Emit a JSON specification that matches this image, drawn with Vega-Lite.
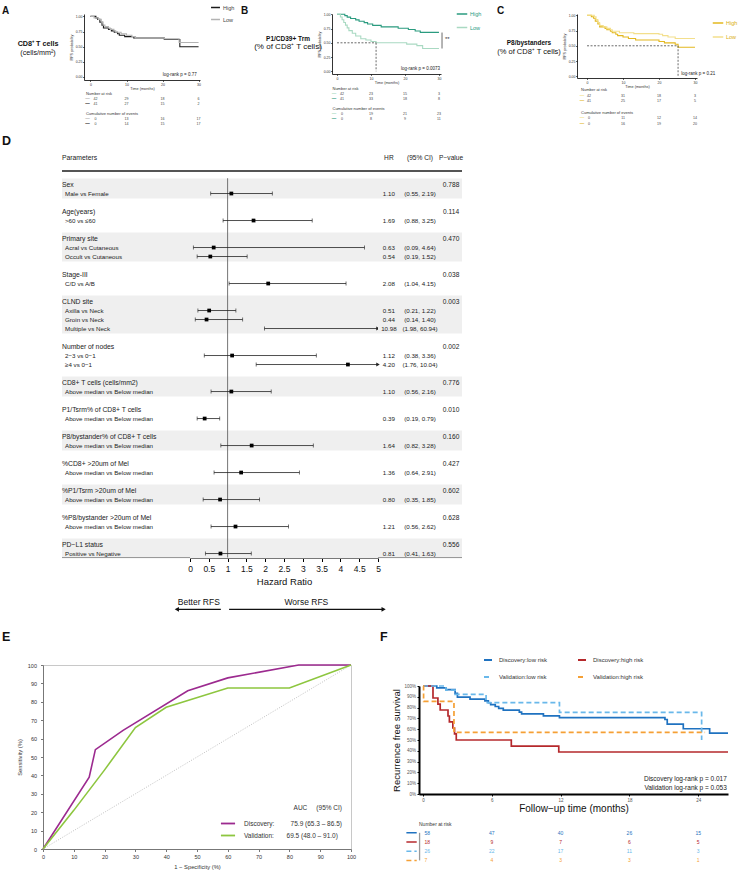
{
"$schema":"https://vega.github.io/schema/vega-lite/v6.json",
"padding":{"left":2,"top":2,"right":0,"bottom":0},
"background":"white",
"config":{"view":{"stroke":null},"font":"Liberation Sans","title":{"anchor":"start","frame":"group","fontWeight":"bold","font":"Liberation Sans","color":"#111"},"axis":{"grid":false,"labelOverlap":false}},
"datasets":{
"kmA":[{"g":"High","t":0,"s":1},{"g":"High","t":1.5,"s":0.976},{"g":"High","t":2,"s":0.952},{"g":"High","t":2.6,"s":0.905},{"g":"High","t":3.2,"s":0.857},{"g":"High","t":3.6,"s":0.81},{"g":"High","t":5,"s":0.786},{"g":"High","t":5.8,"s":0.762},{"g":"High","t":6.6,"s":0.738},{"g":"High","t":7.5,"s":0.714},{"g":"High","t":8,"s":0.69},{"g":"High","t":9.5,"s":0.667},{"g":"High","t":12,"s":0.643},{"g":"High","t":20.5,"s":0.62},{"g":"High","t":24.8,"s":0.5},{"g":"High","t":30,"s":0.5},
{"g":"Low","t":0,"s":1},{"g":"Low","t":1,"s":0.976},{"g":"Low","t":2.2,"s":0.952},{"g":"Low","t":3,"s":0.905},{"g":"Low","t":3.5,"s":0.857},{"g":"Low","t":4,"s":0.833},{"g":"Low","t":5,"s":0.81},{"g":"Low","t":5.5,"s":0.786},{"g":"Low","t":6.5,"s":0.762},{"g":"Low","t":7,"s":0.738},{"g":"Low","t":8.5,"s":0.714},{"g":"Low","t":10,"s":0.69},{"g":"Low","t":11.5,"s":0.667},{"g":"Low","t":12.5,"s":0.643},{"g":"Low","t":20.5,"s":0.63},{"g":"Low","t":24.6,"s":0.57},{"g":"Low","t":30,"s":0.57}],
"kmB":[{"g":"High","t":0,"s":1},{"g":"High","t":2.3,"s":0.976},{"g":"High","t":3,"s":0.951},{"g":"High","t":4,"s":0.927},{"g":"High","t":5.5,"s":0.902},{"g":"High","t":6.5,"s":0.878},{"g":"High","t":8,"s":0.854},{"g":"High","t":9,"s":0.829},{"g":"High","t":10.5,"s":0.805},{"g":"High","t":13,"s":0.78},{"g":"High","t":18,"s":0.756},{"g":"High","t":21,"s":0.732},{"g":"High","t":23,"s":0.707},{"g":"High","t":24.5,"s":0.683},{"g":"High","t":30,"s":0.683},
{"g":"Low","t":0,"s":1},{"g":"Low","t":1,"s":0.952},{"g":"Low","t":1.5,"s":0.905},{"g":"Low","t":2,"s":0.857},{"g":"Low","t":2.5,"s":0.81},{"g":"Low","t":3,"s":0.762},{"g":"Low","t":3.5,"s":0.714},{"g":"Low","t":4.5,"s":0.667},{"g":"Low","t":5.5,"s":0.619},{"g":"Low","t":7,"s":0.571},{"g":"Low","t":8.5,"s":0.548},{"g":"Low","t":10,"s":0.524},{"g":"Low","t":11.5,"s":0.5},{"g":"Low","t":20.5,"s":0.476},{"g":"Low","t":23.5,"s":0.45},{"g":"Low","t":25.2,"s":0.4},{"g":"Low","t":30,"s":0.4}],
"kmC":[{"g":"High","t":0,"s":1},{"g":"High","t":1.2,"s":0.976},{"g":"High","t":1.8,"s":0.952},{"g":"High","t":2.3,"s":0.905},{"g":"High","t":3,"s":0.857},{"g":"High","t":3.5,"s":0.81},{"g":"High","t":5,"s":0.786},{"g":"High","t":5.5,"s":0.762},{"g":"High","t":6.5,"s":0.738},{"g":"High","t":7,"s":0.714},{"g":"High","t":8,"s":0.69},{"g":"High","t":8.5,"s":0.667},{"g":"High","t":10,"s":0.643},{"g":"High","t":11.5,"s":0.619},{"g":"High","t":13.5,"s":0.595},{"g":"High","t":20,"s":0.57},{"g":"High","t":21.5,"s":0.548},{"g":"High","t":24.5,"s":0.524},{"g":"High","t":25.3,"s":0.476},{"g":"High","t":30,"s":0.476},
{"g":"Low","t":0,"s":1},{"g":"Low","t":2,"s":0.976},{"g":"Low","t":2.5,"s":0.929},{"g":"Low","t":3,"s":0.881},{"g":"Low","t":3.5,"s":0.833},{"g":"Low","t":4.5,"s":0.81},{"g":"Low","t":5.5,"s":0.786},{"g":"Low","t":6.5,"s":0.762},{"g":"Low","t":7,"s":0.738},{"g":"Low","t":9,"s":0.714},{"g":"Low","t":13,"s":0.7},{"g":"Low","t":20,"s":0.69},{"g":"Low","t":21,"s":0.667},{"g":"Low","t":22.5,"s":0.643},{"g":"Low","t":24.5,"s":0.62},{"g":"Low","t":30,"s":0.62}],
"tA":[{"r":"a","t":0,"v":"Number at risk","h":true},{"r":"d","t":0,"v":"Cumulative number of events","h":true},
{"r":"b","g":"Low","t":0,"v":"42"},{"r":"b","g":"Low","t":10,"v":"29"},{"r":"b","g":"Low","t":20,"v":"18"},{"r":"b","g":"Low","t":30,"v":"6"},
{"r":"c","g":"High","t":0,"v":"41"},{"r":"c","g":"High","t":10,"v":"27"},{"r":"c","g":"High","t":20,"v":"15"},{"r":"c","g":"High","t":30,"v":"2"},
{"r":"e","g":"Low","t":0,"v":"0"},{"r":"e","g":"Low","t":10,"v":"13"},{"r":"e","g":"Low","t":20,"v":"16"},{"r":"e","g":"Low","t":30,"v":"17"},
{"r":"f","g":"High","t":0,"v":"0"},{"r":"f","g":"High","t":10,"v":"14"},{"r":"f","g":"High","t":20,"v":"15"},{"r":"f","g":"High","t":30,"v":"17"}],
"tB":[{"r":"a","t":0,"v":"Number at risk","h":true},{"r":"d","t":0,"v":"Cumulative number of events","h":true},
{"r":"b","g":"Low","t":0,"v":"42"},{"r":"b","g":"Low","t":10,"v":"23"},{"r":"b","g":"Low","t":20,"v":"15"},{"r":"b","g":"Low","t":30,"v":"3"},
{"r":"c","g":"High","t":0,"v":"41"},{"r":"c","g":"High","t":10,"v":"33"},{"r":"c","g":"High","t":20,"v":"18"},{"r":"c","g":"High","t":30,"v":"8"},
{"r":"e","g":"Low","t":0,"v":"0"},{"r":"e","g":"Low","t":10,"v":"19"},{"r":"e","g":"Low","t":20,"v":"21"},{"r":"e","g":"Low","t":30,"v":"23"},
{"r":"f","g":"High","t":0,"v":"0"},{"r":"f","g":"High","t":10,"v":"8"},{"r":"f","g":"High","t":20,"v":"9"},{"r":"f","g":"High","t":30,"v":"11"}],
"tC":[{"r":"a","t":0,"v":"Number at risk","h":true},{"r":"d","t":0,"v":"Cumulative number of events","h":true},
{"r":"b","g":"Low","t":0,"v":"42"},{"r":"b","g":"Low","t":10,"v":"31"},{"r":"b","g":"Low","t":20,"v":"18"},{"r":"b","g":"Low","t":30,"v":"3"},
{"r":"c","g":"High","t":0,"v":"41"},{"r":"c","g":"High","t":10,"v":"25"},{"r":"c","g":"High","t":20,"v":"17"},{"r":"c","g":"High","t":30,"v":"5"},
{"r":"e","g":"Low","t":0,"v":"0"},{"r":"e","g":"Low","t":10,"v":"11"},{"r":"e","g":"Low","t":20,"v":"12"},{"r":"e","g":"Low","t":30,"v":"14"},
{"r":"f","g":"High","t":0,"v":"0"},{"r":"f","g":"High","t":10,"v":"16"},{"r":"f","g":"High","t":20,"v":"19"},{"r":"f","g":"High","t":30,"v":"20"}],
"forest":[
{"L":0,"label":"Sex","k":"h","p":"0.788"},
{"L":1,"label":"Male vs Female","k":"i","hr":1.10,"lo":0.55,"hi":2.19,"hrs":"1.10","ci":"(0.55, 2.19)"},
{"L":3,"label":"Age(years)","k":"h","p":"0.114"},
{"L":4,"label":">60 vs ≤60","k":"i","hr":1.69,"lo":0.88,"hi":3.25,"hrs":"1.69","ci":"(0.88, 3.25)"},
{"L":6,"label":"Primary site","k":"h","p":"0.470"},
{"L":7,"label":"Acral vs Cutaneous","k":"i","hr":0.63,"lo":0.09,"hi":4.64,"hrs":"0.63","ci":"(0.09, 4.64)"},
{"L":8,"label":"Occult vs Cutaneous","k":"i","hr":0.54,"lo":0.19,"hi":1.52,"hrs":"0.54","ci":"(0.19, 1.52)"},
{"L":10,"label":"Stage-III","k":"h","p":"0.038"},
{"L":11,"label":"C/D vs A/B","k":"i","hr":2.08,"lo":1.04,"hi":4.15,"hrs":"2.08","ci":"(1.04, 4.15)"},
{"L":13,"label":"CLND site","k":"h","p":"0.003"},
{"L":14,"label":"Axilla vs Neck","k":"i","hr":0.51,"lo":0.21,"hi":1.22,"hrs":"0.51","ci":"(0.21, 1.22)"},
{"L":15,"label":"Groin vs Neck","k":"i","hr":0.44,"lo":0.14,"hi":1.40,"hrs":"0.44","ci":"(0.14, 1.40)"},
{"L":16,"label":"Multiple vs Neck","k":"i","hr":10.98,"lo":1.98,"hi":60.94,"hrs":"10.98","ci":"(1.98, 60.94)"},
{"L":18,"label":"Number of nodes","k":"h","p":"0.002"},
{"L":19,"label":"2−3 vs 0−1","k":"i","hr":1.12,"lo":0.38,"hi":3.36,"hrs":"1.12","ci":"(0.38, 3.36)"},
{"L":20,"label":"≥4 vs 0−1","k":"i","hr":4.20,"lo":1.76,"hi":10.04,"hrs":"4.20","ci":"(1.76, 10.04)"},
{"L":22,"label":"CD8+ T cells (cells/mm2)","k":"h","p":"0.776"},
{"L":23,"label":"Above median vs Below median","k":"i","hr":1.10,"lo":0.56,"hi":2.16,"hrs":"1.10","ci":"(0.56, 2.16)"},
{"L":25,"label":"P1/Tsrm% of CD8+ T cells","k":"h","p":"0.010"},
{"L":26,"label":"Above median vs Below median","k":"i","hr":0.39,"lo":0.19,"hi":0.79,"hrs":"0.39","ci":"(0.19, 0.79)"},
{"L":28,"label":"P8/bystander% of CD8+ T cells","k":"h","p":"0.160"},
{"L":29,"label":"Above median vs Below median","k":"i","hr":1.64,"lo":0.82,"hi":3.28,"hrs":"1.64","ci":"(0.82, 3.28)"},
{"L":31,"label":"%CD8+ >20um of Mel","k":"h","p":"0.427"},
{"L":32,"label":"Above median vs Below median","k":"i","hr":1.36,"lo":0.64,"hi":2.91,"hrs":"1.36","ci":"(0.64, 2.91)"},
{"L":34,"label":"%P1/Tsrm >20um of Mel","k":"h","p":"0.602"},
{"L":35,"label":"Above median vs Below median","k":"i","hr":0.80,"lo":0.35,"hi":1.85,"hrs":"0.80","ci":"(0.35, 1.85)"},
{"L":37,"label":"%P8/bystander >20um of Mel","k":"h","p":"0.628"},
{"L":38,"label":"Above median vs Below median","k":"i","hr":1.21,"lo":0.56,"hi":2.62,"hrs":"1.21","ci":"(0.56, 2.62)"},
{"L":40,"label":"PD−L1 status","k":"h","p":"0.556"},
{"L":41,"label":"Positive vs Negative","k":"i","hr":0.81,"lo":0.41,"hi":1.63,"hrs":"0.81","ci":"(0.41, 1.63)"}],
"bands":[{"s":0,"e":1},{"s":6,"e":8},{"s":13,"e":16},{"s":22,"e":23},{"s":28,"e":29},{"s":34,"e":35},{"s":40,"e":41}],
"roc":[{"m":"Discovery","x":0,"y":0},{"m":"Discovery","x":15,"y":39},{"m":"Discovery","x":17,"y":54},{"m":"Discovery","x":26,"y":64.5},{"m":"Discovery","x":47,"y":86},{"m":"Discovery","x":60,"y":93},{"m":"Discovery","x":83,"y":100},{"m":"Discovery","x":100,"y":100},
{"m":"Validation","x":0,"y":0},{"m":"Validation","x":10,"y":21},{"m":"Validation","x":20,"y":43},{"m":"Validation","x":30,"y":66},{"m":"Validation","x":40,"y":77},{"m":"Validation","x":60,"y":87.5},{"m":"Validation","x":80,"y":87.5},{"m":"Validation","x":100,"y":100}],
"fkm":[{"g":"Discovery:low risk","t":0,"s":1},{"g":"Discovery:low risk","t":1.2,"s":0.983},{"g":"Discovery:low risk","t":2,"s":0.966},{"g":"Discovery:low risk","t":2.8,"s":0.931},{"g":"Discovery:low risk","t":3,"s":0.897},{"g":"Discovery:low risk","t":4.1,"s":0.879},{"g":"Discovery:low risk","t":5.4,"s":0.862},{"g":"Discovery:low risk","t":5.7,"s":0.845},{"g":"Discovery:low risk","t":5.9,"s":0.828},{"g":"Discovery:low risk","t":6.3,"s":0.81},{"g":"Discovery:low risk","t":6.6,"s":0.793},{"g":"Discovery:low risk","t":7,"s":0.776},{"g":"Discovery:low risk","t":8.4,"s":0.759},{"g":"Discovery:low risk","t":8.6,"s":0.741},{"g":"Discovery:low risk","t":10.5,"s":0.724},{"g":"Discovery:low risk","t":11.9,"s":0.707},{"g":"Discovery:low risk","t":21.1,"s":0.69},{"g":"Discovery:low risk","t":21.3,"s":0.647},{"g":"Discovery:low risk","t":22.7,"s":0.604},{"g":"Discovery:low risk","t":25,"s":0.563},{"g":"Discovery:low risk","t":26.6,"s":0.563},
{"g":"Discovery:high risk","t":0,"s":1},{"g":"Discovery:high risk","t":0.87,"s":0.889},{"g":"Discovery:high risk","t":1.3,"s":0.833},{"g":"Discovery:high risk","t":1.5,"s":0.778},{"g":"Discovery:high risk","t":2.18,"s":0.722},{"g":"Discovery:high risk","t":2.3,"s":0.667},{"g":"Discovery:high risk","t":2.6,"s":0.611},{"g":"Discovery:high risk","t":2.75,"s":0.556},{"g":"Discovery:high risk","t":2.9,"s":0.5},{"g":"Discovery:high risk","t":7.7,"s":0.444},{"g":"Discovery:high risk","t":11.84,"s":0.389},{"g":"Discovery:high risk","t":26.6,"s":0.389},
{"g":"Validation:low risk","t":0,"s":1},{"g":"Validation:low risk","t":2,"s":0.962},{"g":"Validation:low risk","t":2.8,"s":0.923},{"g":"Validation:low risk","t":5.5,"s":0.846},{"g":"Validation:low risk","t":11.9,"s":0.756},{"g":"Validation:low risk","t":24.3,"s":0.5},
{"g":"Validation:high risk","t":0,"s":1},{"g":"Validation:high risk","t":0.05,"s":0.857},{"g":"Validation:high risk","t":2.7,"s":0.571},{"g":"Validation:high risk","t":24.6,"s":0.571}],
"ft":[{"r":"h","t":0,"v":"Number at risk","h":true},
{"r":"r1","g":"Discovery:low risk","t":0,"v":"58"},{"r":"r1","g":"Discovery:low risk","t":6,"v":"47"},{"r":"r1","g":"Discovery:low risk","t":12,"v":"40"},{"r":"r1","g":"Discovery:low risk","t":18,"v":"26"},{"r":"r1","g":"Discovery:low risk","t":24,"v":"15"},
{"r":"r2","g":"Discovery:high risk","t":0,"v":"18"},{"r":"r2","g":"Discovery:high risk","t":6,"v":"9"},{"r":"r2","g":"Discovery:high risk","t":12,"v":"7"},{"r":"r2","g":"Discovery:high risk","t":18,"v":"6"},{"r":"r2","g":"Discovery:high risk","t":24,"v":"5"},
{"r":"r3","g":"Validation:low risk","t":0,"v":"26"},{"r":"r3","g":"Validation:low risk","t":6,"v":"22"},{"r":"r3","g":"Validation:low risk","t":12,"v":"17"},{"r":"r3","g":"Validation:low risk","t":18,"v":"11"},{"r":"r3","g":"Validation:low risk","t":24,"v":"3"},
{"r":"r4","g":"Validation:high risk","t":0,"v":"7"},{"r":"r4","g":"Validation:high risk","t":6,"v":"4"},{"r":"r4","g":"Validation:high risk","t":12,"v":"3"},{"r":"r4","g":"Validation:high risk","t":18,"v":"3"},{"r":"r4","g":"Validation:high risk","t":24,"v":"1"}],
"arrows":[{"dir":"Better RFS","from":0.82,"to":-0.35},{"dir":"Worse RFS","from":1.04,"to":5.15}]
},
"spacing":8.5,
"resolve":{"scale":{"color":"independent","strokeDash":"independent","shape":"independent"},"legend":{"color":"independent","strokeDash":"independent","shape":"independent"}},
"vconcat":[
{"hconcat":[
 {"width":82,"height":66,"title":{"text":"A","fontSize":10,"offset":-2},"data":{"values":[{"a":"CD8⁺ T cells","b":"(cells/mm²)"}]},
  "layer":[{"mark":{"type":"text","fontWeight":"bold","fontSize":7.2,"dx":-5,"dy":-3,"color":"#111"},"encoding":{"text":{"field":"a"}}},
           {"mark":{"type":"text","fontSize":7.2,"dx":-5,"dy":6,"color":"#111"},"encoding":{"text":{"field":"b"}}}]},
 {"width":116,"height":66,"resolve":{"scale":{"y":"independent"},"axis":{"y":"independent"}},
  "layer":[
   {"layer":[
    {"data":{"name":"kmA"},"mark":{"type":"line","interpolate":"step-after","strokeWidth":1.1},
     "encoding":{"x":{"field":"t","type":"quantitative","scale":{"domain":[-1.8,30.4],"nice":false,"zero":false},"axis":{"values":[0,10,20,30],"title":"Time (months)","labelFontSize":3.5,"titleFontSize":3.8,"titleFontWeight":"normal","tickSize":1.5,"labelPadding":0.5,"titlePadding":1,"domainColor":"#000","tickColor":"#000","domainWidth":0.8,"tickWidth":0.6,"labelColor":"#333","titleColor":"#333","labelOverlap":false}},
      "y":{"field":"s","type":"quantitative","scale":{"domain":[-0.05,1.04],"nice":false,"zero":false},"axis":{"values":[0,0.25,0.5,0.75,1],"format":".2f","title":"RFS probability","labelFontSize":3.5,"titleFontSize":3.8,"titleFontWeight":"normal","tickSize":1.5,"labelPadding":0.5,"titlePadding":2,"domainColor":"#000","tickColor":"#000","domainWidth":0.8,"tickWidth":0.6,"labelColor":"#333","titleColor":"#333","labelOverlap":false}},
      "color":{"field":"g","type":"nominal","scale":{"domain":["High","Low"],"range":["#1a1a1a","#b3b3b3"]},"legend":{"orient":"none","legendX":126,"legendY":-12,"title":null,"symbolType":"stroke","symbolStrokeWidth":1.5,"symbolSize":80,"labelFontSize":5.5,"labelColor":"#444","rowPadding":3,"labelOffset":2}}}},
    {"data":{"values":[{}]},"mark":{"type":"text","text":"log-rank p = 0.77","align":"right","fontSize":4.5,"color":"#222"},"encoding":{"x":{"datum":29.5,"type":"quantitative","axis":{"values":[0,10,20,30],"title":"Time (months)","labelFontSize":3.5,"titleFontSize":3.8,"titleFontWeight":"normal","tickSize":1.5,"labelPadding":0.5,"titlePadding":1,"domainColor":"#000","tickColor":"#000","domainWidth":0.8,"tickWidth":0.6,"labelColor":"#333","titleColor":"#333","labelOverlap":false}},"y":{"datum":0.03,"type":"quantitative","axis":{"values":[0,0.25,0.5,0.75,1],"format":".2f","title":"RFS probability","labelFontSize":3.5,"titleFontSize":3.8,"titleFontWeight":"normal","tickSize":1.5,"labelPadding":0.5,"titlePadding":2,"domainColor":"#000","tickColor":"#000","domainWidth":0.8,"tickWidth":0.6,"labelColor":"#333","titleColor":"#333","labelOverlap":false}}}}]},
   {"data":{"name":"tA"},
    "encoding":{"x":{"field":"t","type":"quantitative","axis":{"values":[0,10,20,30],"title":"Time (months)","labelFontSize":3.5,"titleFontSize":3.8,"titleFontWeight":"normal","tickSize":1.5,"labelPadding":0.5,"titlePadding":1,"domainColor":"#000","tickColor":"#000","domainWidth":0.8,"tickWidth":0.6,"labelColor":"#333","titleColor":"#333","labelOverlap":false}},"y":{"field":"r","type":"ordinal","scale":{"type":"point","domain":["a","b","c","x","d","e","f"],"padding":0.5,"range":[77,112]},"axis":null}},
    "layer":[
     {"transform":[{"filter":"datum.h"}],"mark":{"type":"text","align":"left","dx":-4.5,"fontSize":4,"color":"#333"},"encoding":{"text":{"field":"v"}}},
     {"transform":[{"filter":"!datum.h && datum.t == 0"}],"mark":{"type":"text","dx":5,"fontSize":3.6,"color":"#444"},"encoding":{"text":{"field":"v"}}},
     {"transform":[{"filter":"!datum.h && datum.t > 0"}],"mark":{"type":"text","fontSize":3.6,"color":"#444"},"encoding":{"text":{"field":"v"}}},
     {"transform":[{"filter":"!datum.h && datum.t == 0"}],"mark":{"type":"text","text":"—","dx":-3,"fontSize":4.5,"fontWeight":"bold"},"encoding":{"color":{"field":"g","type":"nominal","legend":null}}}]}]},
 {"width":132,"height":60,"title":{"text":"B","fontSize":10,"offset":-2,"dx":41},"data":{"values":[{"a":"P1/CD39+ Trm","b":"(% of CD8⁺ T cells)"}]},
  "layer":[{"mark":{"type":"text","fontWeight":"bold","fontSize":6.5,"dx":22,"dy":-5.5,"color":"#111"},"encoding":{"text":{"field":"a"}}},
           {"mark":{"type":"text","fontSize":8,"dx":22,"dy":3,"color":"#111"},"encoding":{"text":{"field":"b"}}}]},
 {"width":109,"height":60,"resolve":{"scale":{"y":"independent"},"axis":{"y":"independent"}},
  "layer":[
   {"layer":[
    {"data":{"name":"kmB"},"mark":{"type":"line","interpolate":"step-after","strokeWidth":1.1},
     "encoding":{"x":{"field":"t","type":"quantitative","scale":{"domain":[-1.47,30.6],"nice":false,"zero":false},"axis":{"values":[0,10,20,30],"title":"Time (months)","labelFontSize":3.5,"titleFontSize":3.8,"titleFontWeight":"normal","tickSize":1.5,"labelPadding":0.5,"titlePadding":1,"domainColor":"#000","tickColor":"#000","domainWidth":0.8,"tickWidth":0.6,"labelColor":"#333","titleColor":"#333","labelOverlap":false}},
      "y":{"field":"s","type":"quantitative","scale":{"domain":[-0.047,1.005],"nice":false,"zero":false},"axis":{"values":[0,0.25,0.5,0.75,1],"format":".2f","title":"RFS probability","labelFontSize":3.5,"titleFontSize":3.8,"titleFontWeight":"normal","tickSize":1.5,"labelPadding":0.5,"titlePadding":2,"domainColor":"#000","tickColor":"#000","domainWidth":0.8,"tickWidth":0.6,"labelColor":"#333","titleColor":"#333","labelOverlap":false}},
      "color":{"field":"g","type":"nominal","scale":{"domain":["High","Low"],"range":["#2a9b7f","#a9d9c2"]},"legend":{"orient":"none","legendX":124,"legendY":-6,"title":null,"symbolType":"stroke","symbolStrokeWidth":1.5,"symbolSize":110,"labelFontSize":5.5,"labelColor":"#2a9b7f","rowPadding":3.5,"labelOffset":2}}}},
    {"data":{"values":[{"x":0,"x2":11.5,"y":0.5,"y2":0.5},{"x":11.5,"x2":11.5,"y":0.5,"y2":0}]},"mark":{"type":"rule","strokeDash":[2,1.5],"color":"#444","strokeWidth":0.8},"encoding":{"x":{"field":"x","type":"quantitative","axis":{"values":[0,10,20,30],"title":"Time (months)","labelFontSize":3.5,"titleFontSize":3.8,"titleFontWeight":"normal","tickSize":1.5,"labelPadding":0.5,"titlePadding":1,"domainColor":"#000","tickColor":"#000","domainWidth":0.8,"tickWidth":0.6,"labelColor":"#333","titleColor":"#333","labelOverlap":false}},"x2":{"field":"x2"},"y":{"field":"y","type":"quantitative","axis":{"values":[0,0.25,0.5,0.75,1],"format":".2f","title":"RFS probability","labelFontSize":3.5,"titleFontSize":3.8,"titleFontWeight":"normal","tickSize":1.5,"labelPadding":0.5,"titlePadding":2,"domainColor":"#000","tickColor":"#000","domainWidth":0.8,"tickWidth":0.6,"labelColor":"#333","titleColor":"#333","labelOverlap":false}},"y2":{"field":"y2"}}},
    {"data":{"values":[{"x":30.9,"y":0.68,"y2":0.4,"txt":"**"}]},"layer":[
      {"mark":{"type":"rule","color":"#444","strokeWidth":0.8},"encoding":{"x":{"field":"x","type":"quantitative","axis":{"values":[0,10,20,30],"title":"Time (months)","labelFontSize":3.5,"titleFontSize":3.8,"titleFontWeight":"normal","tickSize":1.5,"labelPadding":0.5,"titlePadding":1,"domainColor":"#000","tickColor":"#000","domainWidth":0.8,"tickWidth":0.6,"labelColor":"#333","titleColor":"#333","labelOverlap":false}},"y":{"field":"y","type":"quantitative","axis":{"values":[0,0.25,0.5,0.75,1],"format":".2f","title":"RFS probability","labelFontSize":3.5,"titleFontSize":3.8,"titleFontWeight":"normal","tickSize":1.5,"labelPadding":0.5,"titlePadding":2,"domainColor":"#000","tickColor":"#000","domainWidth":0.8,"tickWidth":0.6,"labelColor":"#333","titleColor":"#333","labelOverlap":false}},"y2":{"field":"y2"}}},
      {"mark":{"type":"text","align":"left","dx":3,"dy":-2,"fontSize":6,"color":"#333"},"encoding":{"x":{"field":"x","type":"quantitative","axis":{"values":[0,10,20,30],"title":"Time (months)","labelFontSize":3.5,"titleFontSize":3.8,"titleFontWeight":"normal","tickSize":1.5,"labelPadding":0.5,"titlePadding":1,"domainColor":"#000","tickColor":"#000","domainWidth":0.8,"tickWidth":0.6,"labelColor":"#333","titleColor":"#333","labelOverlap":false}},"y":{"datum":0.54,"type":"quantitative","axis":{"values":[0,0.25,0.5,0.75,1],"format":".2f","title":"RFS probability","labelFontSize":3.5,"titleFontSize":3.8,"titleFontWeight":"normal","tickSize":1.5,"labelPadding":0.5,"titlePadding":2,"domainColor":"#000","tickColor":"#000","domainWidth":0.8,"tickWidth":0.6,"labelColor":"#333","titleColor":"#333","labelOverlap":false}},"text":{"field":"txt"}}}]},
    {"data":{"values":[{}]},"mark":{"type":"text","text":"log-rank p = 0.0073","align":"right","fontSize":4.5,"color":"#222"},"encoding":{"x":{"datum":30.3,"type":"quantitative","axis":{"values":[0,10,20,30],"title":"Time (months)","labelFontSize":3.5,"titleFontSize":3.8,"titleFontWeight":"normal","tickSize":1.5,"labelPadding":0.5,"titlePadding":1,"domainColor":"#000","tickColor":"#000","domainWidth":0.8,"tickWidth":0.6,"labelColor":"#333","titleColor":"#333","labelOverlap":false}},"y":{"datum":0.035,"type":"quantitative","axis":{"values":[0,0.25,0.5,0.75,1],"format":".2f","title":"RFS probability","labelFontSize":3.5,"titleFontSize":3.8,"titleFontWeight":"normal","tickSize":1.5,"labelPadding":0.5,"titlePadding":2,"domainColor":"#000","tickColor":"#000","domainWidth":0.8,"tickWidth":0.6,"labelColor":"#333","titleColor":"#333","labelOverlap":false}}}}]},
   {"data":{"name":"tB"},
    "encoding":{"x":{"field":"t","type":"quantitative","axis":{"values":[0,10,20,30],"title":"Time (months)","labelFontSize":3.5,"titleFontSize":3.8,"titleFontWeight":"normal","tickSize":1.5,"labelPadding":0.5,"titlePadding":1,"domainColor":"#000","tickColor":"#000","domainWidth":0.8,"tickWidth":0.6,"labelColor":"#333","titleColor":"#333","labelOverlap":false}},"y":{"field":"r","type":"ordinal","scale":{"type":"point","domain":["a","b","c","x","d","e","f"],"padding":0.5,"range":[72,107]},"axis":null}},
    "layer":[
     {"transform":[{"filter":"datum.h"}],"mark":{"type":"text","align":"left","dx":-4.5,"fontSize":4,"color":"#333"},"encoding":{"text":{"field":"v"}}},
     {"transform":[{"filter":"!datum.h && datum.t == 0"}],"mark":{"type":"text","dx":5,"fontSize":3.6,"color":"#444"},"encoding":{"text":{"field":"v"}}},
     {"transform":[{"filter":"!datum.h && datum.t > 0"}],"mark":{"type":"text","fontSize":3.6,"color":"#444"},"encoding":{"text":{"field":"v"}}},
     {"transform":[{"filter":"!datum.h && datum.t == 0"}],"mark":{"type":"text","text":"—","dx":-3,"fontSize":4.5,"fontWeight":"bold"},"encoding":{"color":{"field":"g","type":"nominal","legend":null}}}]}]},
 {"width":136,"height":64,"title":{"text":"C","fontSize":10,"offset":-2,"dx":56},"data":{"values":[{"a":"P8/bystanders","b":"(% of CD8⁺ T cells)"}]},
  "layer":[{"mark":{"type":"text","fontWeight":"bold","fontSize":6.5,"dx":20,"dy":-2.7,"color":"#111"},"encoding":{"text":{"field":"a"}}},
           {"mark":{"type":"text","fontSize":7.5,"dx":20,"dy":5.7,"color":"#111"},"encoding":{"text":{"field":"b"}}}]},
 {"width":120,"height":64,"resolve":{"scale":{"y":"independent"},"axis":{"y":"independent"}},
  "layer":[
   {"layer":[
    {"data":{"name":"kmC"},"mark":{"type":"line","interpolate":"step-after","strokeWidth":1.1},
     "encoding":{"x":{"field":"t","type":"quantitative","scale":{"domain":[-2.79,30.56],"nice":false,"zero":false},"axis":{"values":[0,10,20,30],"title":"Time (months)","labelFontSize":3.5,"titleFontSize":3.8,"titleFontWeight":"normal","tickSize":1.5,"labelPadding":0.5,"titlePadding":1,"domainColor":"#000","tickColor":"#000","domainWidth":0.8,"tickWidth":0.6,"labelColor":"#333","titleColor":"#333","labelOverlap":false}},
      "y":{"field":"s","type":"quantitative","scale":{"domain":[-0.028,1.021],"nice":false,"zero":false},"axis":{"values":[0,0.25,0.5,0.75,1],"format":".2f","title":"RFS probability","labelFontSize":3.5,"titleFontSize":3.8,"titleFontWeight":"normal","tickSize":1.5,"labelPadding":0.5,"titlePadding":2,"domainColor":"#000","tickColor":"#000","domainWidth":0.8,"tickWidth":0.6,"labelColor":"#333","titleColor":"#333","labelOverlap":false}},
      "color":{"field":"g","type":"nominal","scale":{"domain":["High","Low"],"range":["#e3b81f","#f3df8c"]},"legend":{"orient":"none","legendX":135,"legendY":3,"title":null,"symbolType":"stroke","symbolStrokeWidth":1.5,"symbolSize":110,"labelFontSize":5.5,"labelColor":"#d9ad10","rowPadding":4,"labelOffset":2}}}},
    {"data":{"values":[{"x":0,"x2":25.3,"y":0.5,"y2":0.5},{"x":25.3,"x2":25.3,"y":0.5,"y2":0}]},"mark":{"type":"rule","strokeDash":[2,1.5],"color":"#444","strokeWidth":0.8},"encoding":{"x":{"field":"x","type":"quantitative","axis":{"values":[0,10,20,30],"title":"Time (months)","labelFontSize":3.5,"titleFontSize":3.8,"titleFontWeight":"normal","tickSize":1.5,"labelPadding":0.5,"titlePadding":1,"domainColor":"#000","tickColor":"#000","domainWidth":0.8,"tickWidth":0.6,"labelColor":"#333","titleColor":"#333","labelOverlap":false}},"x2":{"field":"x2"},"y":{"field":"y","type":"quantitative","axis":{"values":[0,0.25,0.5,0.75,1],"format":".2f","title":"RFS probability","labelFontSize":3.5,"titleFontSize":3.8,"titleFontWeight":"normal","tickSize":1.5,"labelPadding":0.5,"titlePadding":2,"domainColor":"#000","tickColor":"#000","domainWidth":0.8,"tickWidth":0.6,"labelColor":"#333","titleColor":"#333","labelOverlap":false}},"y2":{"field":"y2"}}},
    {"data":{"values":[{}]},"mark":{"type":"text","text":"log-rank p = 0.21","align":"left","fontSize":4.5,"color":"#222"},"encoding":{"x":{"datum":26.2,"type":"quantitative","axis":{"values":[0,10,20,30],"title":"Time (months)","labelFontSize":3.5,"titleFontSize":3.8,"titleFontWeight":"normal","tickSize":1.5,"labelPadding":0.5,"titlePadding":1,"domainColor":"#000","tickColor":"#000","domainWidth":0.8,"tickWidth":0.6,"labelColor":"#333","titleColor":"#333","labelOverlap":false}},"y":{"datum":0.04,"type":"quantitative","axis":{"values":[0,0.25,0.5,0.75,1],"format":".2f","title":"RFS probability","labelFontSize":3.5,"titleFontSize":3.8,"titleFontWeight":"normal","tickSize":1.5,"labelPadding":0.5,"titlePadding":2,"domainColor":"#000","tickColor":"#000","domainWidth":0.8,"tickWidth":0.6,"labelColor":"#333","titleColor":"#333","labelOverlap":false}}}}]},
   {"data":{"name":"tC"},
    "encoding":{"x":{"field":"t","type":"quantitative","axis":{"values":[0,10,20,30],"title":"Time (months)","labelFontSize":3.5,"titleFontSize":3.8,"titleFontWeight":"normal","tickSize":1.5,"labelPadding":0.5,"titlePadding":1,"domainColor":"#000","tickColor":"#000","domainWidth":0.8,"tickWidth":0.6,"labelColor":"#333","titleColor":"#333","labelOverlap":false}},"y":{"field":"r","type":"ordinal","scale":{"type":"point","domain":["a","b","c","x","d","e","f"],"padding":0.5,"range":[73,113]},"axis":null}},
    "layer":[
     {"transform":[{"filter":"datum.h"}],"mark":{"type":"text","align":"left","dx":-6,"fontSize":4,"color":"#333"},"encoding":{"text":{"field":"v"}}},
     {"transform":[{"filter":"!datum.h && datum.t == 0"}],"mark":{"type":"text","dx":2,"fontSize":3.6,"color":"#444"},"encoding":{"text":{"field":"v"}}},
     {"transform":[{"filter":"!datum.h && datum.t > 0"}],"mark":{"type":"text","fontSize":3.6,"color":"#444"},"encoding":{"text":{"field":"v"}}},
     {"transform":[{"filter":"!datum.h && datum.t == 0"}],"mark":{"type":"text","text":"—","dx":-5,"fontSize":4.5,"fontWeight":"bold"},"encoding":{"color":{"field":"g","type":"nominal","legend":null}}}]}]}
],"spacing":0,"bounds":"flush","resolve":{"scale":{"color":"independent","strokeDash":"independent","shape":"independent"},"legend":{"color":"independent","strokeDash":"independent","shape":"independent"}}},
{"hconcat":[
 {"width":60,"height":471,"title":{"text":"D","fontSize":12.5,"offset":3},"data":{"values":[{}]},"mark":{"type":"rule","opacity":0},"encoding":{"x":{"datum":0,"type":"quantitative","axis":null}}},
 {"width":128,"height":407,"layer":[
  {"data":{"name":"bands"},"transform":[{"calculate":"datum.s - 0.68","as":"y0"},{"calculate":"datum.e + 0.55","as":"y1"}],"mark":{"type":"rect","color":"#efefef"},"encoding":{"y":{"field":"y0","type":"quantitative","scale":{"domain":[-3.78,41.44],"reverse":true,"nice":false,"zero":false},"axis":null},"y2":{"field":"y1"}}},
  {"data":{"values":[{}]},"mark":{"type":"rule","color":"#555","strokeWidth":1.8},"encoding":{"y":{"datum":-1.5,"type":"quantitative","axis":null}}},
  {"data":{"values":[{}]},"mark":{"type":"rule","color":"#999","strokeWidth":1},"encoding":{"y":{"datum":41.44,"type":"quantitative","axis":null}}},
  {"data":{"values":[{}]},"mark":{"type":"text","text":"Parameters","align":"left","fontSize":6.8,"color":"#222"},"encoding":{"x":{"datum":0,"type":"quantitative","scale":{"domain":[0,1]},"axis":null},"y":{"datum":-2.96,"type":"quantitative","axis":null}}},
  {"data":{"name":"forest"},"transform":[{"filter":"datum.k == 'h'"}],"mark":{"type":"text","align":"left","fontSize":6.8,"color":"#222"},"encoding":{"x":{"datum":0,"type":"quantitative","axis":null},"y":{"field":"L","type":"quantitative","axis":null},"text":{"field":"label"}}},
  {"data":{"name":"forest"},"transform":[{"filter":"datum.k == 'i'"}],"mark":{"type":"text","align":"left","dx":3,"fontSize":6.2,"color":"#222"},"encoding":{"x":{"datum":0,"type":"quantitative","axis":null},"y":{"field":"L","type":"quantitative","axis":null},"text":{"field":"label"}}}]},
 {"width":188,"height":407,
  "layer":[
  {"data":{"name":"bands"},"transform":[{"calculate":"datum.s - 0.68","as":"y0"},{"calculate":"datum.e + 0.55","as":"y1"}],"mark":{"type":"rect","color":"#efefef"},"encoding":{"y":{"field":"y0","type":"quantitative","scale":{"domain":[-3.78,41.44],"reverse":true,"nice":false,"zero":false},"axis":null},"y2":{"field":"y1"}}},
  {"data":{"values":[{}]},"mark":{"type":"rule","color":"#555","strokeWidth":1.8},"encoding":{"y":{"datum":-1.5,"type":"quantitative","axis":null}}},
  {"data":{"values":[{"v":1,"a":-0.7,"b":41.44}]},"mark":{"type":"rule","color":"#666","strokeWidth":0.9},"encoding":{"x":{"field":"v","type":"quantitative","scale":{"domain":[0,5],"nice":false,"zero":false},"axis":{"values":[0,0.5,1,1.5,2,2.5,3,3.5,4,4.5,5],"format":"~g","title":"Hazard Ratio","labelFontSize":8.5,"titleFontSize":9.5,"titleFontWeight":"normal","labelColor":"#111","titleColor":"#111","domainColor":"#000","domainWidth":1.8,"tickColor":"#000","tickSize":4,"tickWidth":1,"labelPadding":2.5,"titlePadding":4,"labelFlush":false,"labelOverlap":false}},"y":{"field":"a","type":"quantitative","axis":null},"y2":{"field":"b"}}},
  {"data":{"name":"forest"},"transform":[{"filter":"datum.k == 'i'"},{"calculate":"min(datum.hi, 5)","as":"hic"}],
   "encoding":{"y":{"field":"L","type":"quantitative","axis":null}},
   "layer":[
    {"mark":{"type":"rule","color":"#222","strokeWidth":0.8},"encoding":{"x":{"field":"lo","type":"quantitative","axis":{"values":[0,0.5,1,1.5,2,2.5,3,3.5,4,4.5,5],"format":"~g","title":"Hazard Ratio","labelFontSize":8.5,"titleFontSize":9.5,"titleFontWeight":"normal","labelColor":"#111","titleColor":"#111","domainColor":"#000","domainWidth":1.8,"tickColor":"#000","tickSize":4,"tickWidth":1,"labelPadding":2.5,"titlePadding":4,"labelFlush":false,"labelOverlap":false}},"x2":{"field":"hic"}}},
    {"mark":{"type":"tick","orient":"vertical","size":4,"thickness":0.9,"color":"#222"},"encoding":{"x":{"field":"lo","type":"quantitative","axis":{"values":[0,0.5,1,1.5,2,2.5,3,3.5,4,4.5,5],"format":"~g","title":"Hazard Ratio","labelFontSize":8.5,"titleFontSize":9.5,"titleFontWeight":"normal","labelColor":"#111","titleColor":"#111","domainColor":"#000","domainWidth":1.8,"tickColor":"#000","tickSize":4,"tickWidth":1,"labelPadding":2.5,"titlePadding":4,"labelFlush":false,"labelOverlap":false}}}},
    {"transform":[{"filter":"datum.hi <= 5"}],"mark":{"type":"tick","orient":"vertical","size":4,"thickness":0.9,"color":"#222"},"encoding":{"x":{"field":"hi","type":"quantitative","axis":{"values":[0,0.5,1,1.5,2,2.5,3,3.5,4,4.5,5],"format":"~g","title":"Hazard Ratio","labelFontSize":8.5,"titleFontSize":9.5,"titleFontWeight":"normal","labelColor":"#111","titleColor":"#111","domainColor":"#000","domainWidth":1.8,"tickColor":"#000","tickSize":4,"tickWidth":1,"labelPadding":2.5,"titlePadding":4,"labelFlush":false,"labelOverlap":false}}}},
    {"transform":[{"filter":"datum.hi > 5"}],"mark":{"type":"point","shape":"triangle-right","filled":true,"size":16,"color":"#222","opacity":1},"encoding":{"x":{"field":"hic","type":"quantitative","axis":{"values":[0,0.5,1,1.5,2,2.5,3,3.5,4,4.5,5],"format":"~g","title":"Hazard Ratio","labelFontSize":8.5,"titleFontSize":9.5,"titleFontWeight":"normal","labelColor":"#111","titleColor":"#111","domainColor":"#000","domainWidth":1.8,"tickColor":"#000","tickSize":4,"tickWidth":1,"labelPadding":2.5,"titlePadding":4,"labelFlush":false,"labelOverlap":false}}}},
    {"transform":[{"filter":"datum.hr <= 5"}],"mark":{"type":"point","shape":"square","filled":true,"size":14,"color":"#000","opacity":1},"encoding":{"x":{"field":"hr","type":"quantitative","axis":{"values":[0,0.5,1,1.5,2,2.5,3,3.5,4,4.5,5],"format":"~g","title":"Hazard Ratio","labelFontSize":8.5,"titleFontSize":9.5,"titleFontWeight":"normal","labelColor":"#111","titleColor":"#111","domainColor":"#000","domainWidth":1.8,"tickColor":"#000","tickSize":4,"tickWidth":1,"labelPadding":2.5,"titlePadding":4,"labelFlush":false,"labelOverlap":false}}}}]},
  {"data":{"name":"arrows"},"transform":[{"calculate":"(datum.from + datum.to) / 2","as":"mid"}],
   "encoding":{"y":{"datum":47.2,"type":"quantitative","axis":null}},
   "layer":[
    {"mark":{"type":"rule","strokeWidth":1.2,"color":"#111"},"encoding":{"x":{"field":"from","type":"quantitative","axis":{"values":[0,0.5,1,1.5,2,2.5,3,3.5,4,4.5,5],"format":"~g","title":"Hazard Ratio","labelFontSize":8.5,"titleFontSize":9.5,"titleFontWeight":"normal","labelColor":"#111","titleColor":"#111","domainColor":"#000","domainWidth":1.8,"tickColor":"#000","tickSize":4,"tickWidth":1,"labelPadding":2.5,"titlePadding":4,"labelFlush":false,"labelOverlap":false}},"x2":{"field":"to"}}},
    {"mark":{"type":"point","filled":true,"size":24,"color":"#111","opacity":1},"encoding":{"x":{"field":"to","type":"quantitative","axis":{"values":[0,0.5,1,1.5,2,2.5,3,3.5,4,4.5,5],"format":"~g","title":"Hazard Ratio","labelFontSize":8.5,"titleFontSize":9.5,"titleFontWeight":"normal","labelColor":"#111","titleColor":"#111","domainColor":"#000","domainWidth":1.8,"tickColor":"#000","tickSize":4,"tickWidth":1,"labelPadding":2.5,"titlePadding":4,"labelFlush":false,"labelOverlap":false}},"shape":{"field":"dir","type":"nominal","scale":{"domain":["Better RFS","Worse RFS"],"range":["triangle-left","triangle-right"]},"legend":null}}},
    {"mark":{"type":"text","fontSize":8.5,"color":"#111","dy":-7},"encoding":{"x":{"field":"mid","type":"quantitative","axis":{"values":[0,0.5,1,1.5,2,2.5,3,3.5,4,4.5,5],"format":"~g","title":"Hazard Ratio","labelFontSize":8.5,"titleFontSize":9.5,"titleFontWeight":"normal","labelColor":"#111","titleColor":"#111","domainColor":"#000","domainWidth":1.8,"tickColor":"#000","tickSize":4,"tickWidth":1,"labelPadding":2.5,"titlePadding":4,"labelFlush":false,"labelOverlap":false}},"text":{"field":"dir"}}}]}]},
 {"width":84,"height":407,"layer":[
  {"data":{"name":"bands"},"transform":[{"calculate":"datum.s - 0.68","as":"y0"},{"calculate":"datum.e + 0.55","as":"y1"}],"mark":{"type":"rect","color":"#efefef"},"encoding":{"y":{"field":"y0","type":"quantitative","scale":{"domain":[-3.78,41.44],"reverse":true,"nice":false,"zero":false},"axis":null},"y2":{"field":"y1"}}},
  {"data":{"values":[{}]},"mark":{"type":"rule","color":"#555","strokeWidth":1.8},"encoding":{"y":{"datum":-1.5,"type":"quantitative","axis":null}}},
  {"data":{"values":[{}]},"mark":{"type":"rule","color":"#999","strokeWidth":1},"encoding":{"y":{"datum":41.44,"type":"quantitative","axis":null}}},
  {"data":{"values":[{}]},"mark":{"type":"text","text":"HR","fontSize":6.6,"color":"#222"},"encoding":{"x":{"datum":"HR","type":"nominal","scale":{"type":"point","domain":["HR","CI","P"],"padding":0.35},"axis":null},"y":{"datum":-2.96,"type":"quantitative","axis":null}}},
  {"data":{"values":[{}]},"mark":{"type":"text","text":"(95% CI)","fontSize":6.6,"color":"#222"},"encoding":{"x":{"datum":"CI","type":"nominal","axis":null},"y":{"datum":-2.96,"type":"quantitative","axis":null}}},
  {"data":{"values":[{}]},"mark":{"type":"text","text":"P−value","fontSize":6.6,"color":"#222"},"encoding":{"x":{"datum":"P","type":"nominal","axis":null},"y":{"datum":-2.96,"type":"quantitative","axis":null}}},
  {"data":{"name":"forest"},"transform":[{"filter":"datum.k == 'i'"}],"mark":{"type":"text","fontSize":6.2,"color":"#222"},"encoding":{"x":{"datum":"HR","type":"nominal","axis":null},"y":{"field":"L","type":"quantitative","axis":null},"text":{"field":"hrs"}}},
  {"data":{"name":"forest"},"transform":[{"filter":"datum.k == 'i'"}],"mark":{"type":"text","fontSize":6.2,"color":"#222"},"encoding":{"x":{"datum":"CI","type":"nominal","axis":null},"y":{"field":"L","type":"quantitative","axis":null},"text":{"field":"ci"}}},
  {"data":{"name":"forest"},"transform":[{"filter":"datum.k == 'h'"}],"mark":{"type":"text","fontSize":6.6,"color":"#222"},"encoding":{"x":{"datum":"P","type":"nominal","axis":null},"y":{"field":"L","type":"quantitative","axis":null},"text":{"field":"p"}}}]}
],"spacing":0,"bounds":"flush","resolve":{"scale":{"color":"independent","strokeDash":"independent","shape":"independent"},"legend":{"color":"independent","strokeDash":"independent","shape":"independent"}}},
{"hconcat":[
 {"width":41,"height":10,"title":{"text":"E","fontSize":12.5,"offset":22},"data":{"values":[]},"mark":"point"},
 {"width":308,"height":184,"view":{"stroke":"#c8c8c8","strokeWidth":1},"layer":[
  {"data":{"values":[{"x":0,"y":0},{"x":100,"y":100}]},"mark":{"type":"line","color":"#b0b0b0","strokeDash":[1,1.5],"strokeWidth":0.8},
   "encoding":{"x":{"field":"x","type":"quantitative","scale":{"domain":[0,100],"nice":false},"axis":{"values":[0,10,20,30,40,50,60,70,80,90,100],"title":"1 − Specificity (%)","labelFontSize":5.5,"titleFontSize":5.8,"titleFontWeight":"normal","tickSize":2.5,"labelPadding":2.5,"titlePadding":4,"domainColor":"#777","tickColor":"#777","labelColor":"#333","titleColor":"#333","labelFlush":false,"labelOverlap":false}},
    "y":{"field":"y","type":"quantitative","scale":{"domain":[0,100],"nice":false},"axis":{"values":[0,10,20,30,40,50,60,70,80,90,100],"title":"Sensitivity (%)","labelFontSize":5.5,"titleFontSize":5.8,"titleFontWeight":"normal","tickSize":2.5,"labelPadding":4,"titlePadding":5,"domainColor":"#777","tickColor":"#777","labelColor":"#333","titleColor":"#333","labelFlush":false,"labelOverlap":false}}}},
  {"data":{"name":"roc"},"mark":{"type":"line","strokeWidth":1.6},
   "encoding":{"x":{"field":"x","type":"quantitative","axis":{"values":[0,10,20,30,40,50,60,70,80,90,100],"title":"1 − Specificity (%)","labelFontSize":5.5,"titleFontSize":5.8,"titleFontWeight":"normal","tickSize":2.5,"labelPadding":2.5,"titlePadding":4,"domainColor":"#777","tickColor":"#777","labelColor":"#333","titleColor":"#333","labelFlush":false,"labelOverlap":false}},"y":{"field":"y","type":"quantitative","axis":{"values":[0,10,20,30,40,50,60,70,80,90,100],"title":"Sensitivity (%)","labelFontSize":5.5,"titleFontSize":5.8,"titleFontWeight":"normal","tickSize":2.5,"labelPadding":4,"titlePadding":5,"domainColor":"#777","tickColor":"#777","labelColor":"#333","titleColor":"#333","labelFlush":false,"labelOverlap":false}},
    "color":{"field":"m","type":"nominal","scale":{"domain":["Discovery","Validation"],"range":["#9c2a8f","#8dc63f"]},
     "legend":{"orient":"bottom-right","offset":9,"title":"AUC\u00a0\u00a0\u00a0\u00a0\u00a0(95% CI)\u00a0\u00a0\u00a0\u00a0\u00a0\u00a0\u00a0\u00a0\u00a0\u00a0","titleFontSize":6.5,"titleFontWeight":"normal","titleColor":"#333","titleAnchor":"end","titlePadding":4,"labelFontSize":6.5,"labelColor":"#333","symbolType":"stroke","symbolStrokeWidth":1.8,"symbolSize":200,"rowPadding":0,"labelOffset":8,
      "labelExpr":"datum.label == 'Discovery' ? 'Discovery:\u00a0\u00a0\u00a0\u00a0\u00a0\u00a0\u00a0\u00a0\u00a075.9 (65.3 – 86.5)' : 'Validation:\u00a0\u00a0\u00a0\u00a0\u00a0\u00a0\u00a069.5 (48.0 – 91.0)'"}}}}]},
 {"width":68,"height":10,"title":{"text":"F","fontSize":12.5,"offset":22,"dx":29},"data":{"values":[]},"mark":"point"},
 {"width":309,"height":129,"resolve":{"scale":{"y":"independent"},"axis":{"y":"independent"}},
  "layer":[
   {"layer":[
    {"data":{"name":"fkm"},"mark":{"type":"line","interpolate":"step-after","strokeWidth":1.7},
     "encoding":{"x":{"field":"t","type":"quantitative","scale":{"domain":[-0.35,26.6],"nice":false,"zero":false},"axis":{"values":[0,6,12,18,24],"title":"Follow−up time (months)","titleFontSize":10,"titleFontWeight":"normal","titleColor":"#111","titlePadding":1.5,"labelFontSize":4.5,"labelColor":"#555","labelPadding":1,"tickSize":2,"domainColor":"#000","domainWidth":2,"tickColor":"#000","labelOverlap":false}},
      "y":{"field":"s","type":"quantitative","scale":{"domain":[0,1],"nice":false,"range":[129,21]},"axis":{"values":[0,0.1,0.2,0.3,0.4,0.5,0.6,0.7,0.8,0.9,1],"format":".0%","title":"Recurrence free survival","titleFontSize":9.5,"titleFontWeight":"normal","titleColor":"#111","titlePadding":2,"labelFontSize":4.5,"labelColor":"#555","labelPadding":1.5,"tickSize":2,"domainColor":"#000","domainWidth":2,"tickColor":"#000","labelOverlap":false}},
      "color":{"field":"g","type":"nominal","scale":{"domain":["Discovery:low risk","Validation:low risk","Discovery:high risk","Validation:high risk"],"range":["#1f72c0","#69b8ea","#b5282b","#f5a035"]},"legend":{"orient":"none","legendX":64,"legendY":-10,"columns":2,"title":null,"symbolType":"stroke","symbolStrokeWidth":2,"symbolSize":64,"labelFontSize":6,"labelColor":"#333","rowPadding":8,"columnPadding":26,"labelOffset":6}},
      "strokeDash":{"field":"g","type":"nominal","scale":{"domain":["Discovery:low risk","Validation:low risk","Discovery:high risk","Validation:high risk"],"range":[[1,0],[5,3],[1,0],[5,3]]},"legend":{"orient":"none","legendX":64,"legendY":-10,"columns":2,"title":null,"symbolType":"stroke","symbolStrokeWidth":2,"symbolSize":64,"labelFontSize":6,"labelColor":"#333","rowPadding":8,"columnPadding":26,"labelOffset":6}}}},
    {"data":{"values":[{"t":26.5,"s":0.143,"txt":"Discovery log-rank p = 0.017"},{"t":26.5,"s":0.056,"txt":"Validation log-rank p = 0.053"}]},"mark":{"type":"text","align":"right","fontSize":6.5,"color":"#222"},"encoding":{"x":{"field":"t","type":"quantitative","axis":{"values":[0,6,12,18,24],"title":"Follow−up time (months)","titleFontSize":10,"titleFontWeight":"normal","titleColor":"#111","titlePadding":1.5,"labelFontSize":4.5,"labelColor":"#555","labelPadding":1,"tickSize":2,"domainColor":"#000","domainWidth":2,"tickColor":"#000","labelOverlap":false}},"y":{"field":"s","type":"quantitative","axis":{"values":[0,0.1,0.2,0.3,0.4,0.5,0.6,0.7,0.8,0.9,1],"format":".0%","title":"Recurrence free survival","titleFontSize":9.5,"titleFontWeight":"normal","titleColor":"#111","titlePadding":2,"labelFontSize":4.5,"labelColor":"#555","labelPadding":1.5,"tickSize":2,"domainColor":"#000","domainWidth":2,"tickColor":"#000","labelOverlap":false}},"text":{"field":"txt"}}}]},
   {"data":{"name":"ft"},
    "encoding":{"x":{"field":"t","type":"quantitative","axis":{"values":[0,6,12,18,24],"title":"Follow−up time (months)","titleFontSize":10,"titleFontWeight":"normal","titleColor":"#111","titlePadding":1.5,"labelFontSize":4.5,"labelColor":"#555","labelPadding":1,"tickSize":2,"domainColor":"#000","domainWidth":2,"tickColor":"#000","labelOverlap":false}},"y":{"field":"r","type":"ordinal","scale":{"type":"point","domain":["h","r1","r2","r3","r4"],"padding":0.5,"range":[154,200]},"axis":null}},
    "layer":[
     {"transform":[{"filter":"datum.h"}],"mark":{"type":"text","align":"left","dx":-4,"fontSize":5,"color":"#333"},"encoding":{"text":{"field":"v"}}},
     {"transform":[{"filter":"!datum.h && datum.t == 0"}],"mark":{"type":"text","align":"left","dx":1.5,"fontSize":5},"encoding":{"text":{"field":"v"},"color":{"field":"g","type":"nominal","legend":null}}},
     {"transform":[{"filter":"!datum.h && datum.t > 0"}],"mark":{"type":"text","fontSize":5},"encoding":{"text":{"field":"v"},"color":{"field":"g","type":"nominal","legend":null}}},
     {"transform":[{"filter":"!datum.h && datum.t == 0"},{"calculate":"-1.45","as":"sx"},{"calculate":"-0.55","as":"sx2"}],"mark":{"type":"rule","strokeWidth":1.5},"encoding":{"x":{"field":"sx","type":"quantitative","axis":{"values":[0,6,12,18,24],"title":"Follow−up time (months)","titleFontSize":10,"titleFontWeight":"normal","titleColor":"#111","titlePadding":1.5,"labelFontSize":4.5,"labelColor":"#555","labelPadding":1,"tickSize":2,"domainColor":"#000","domainWidth":2,"tickColor":"#000","labelOverlap":false}},"x2":{"field":"sx2"},"color":{"field":"g","type":"nominal","legend":null},"strokeDash":{"field":"g","type":"nominal","legend":null}}},
     {"data":{"values":[{"x":-0.3,"a":"r1","b":"r4"}]},"mark":{"type":"rule","color":"#999","strokeWidth":1.3},"encoding":{"x":{"field":"x","type":"quantitative","axis":{"values":[0,6,12,18,24],"title":"Follow−up time (months)","titleFontSize":10,"titleFontWeight":"normal","titleColor":"#111","titlePadding":1.5,"labelFontSize":4.5,"labelColor":"#555","labelPadding":1,"tickSize":2,"domainColor":"#000","domainWidth":2,"tickColor":"#000","labelOverlap":false}},"y":{"field":"a","type":"ordinal"},"y2":{"field":"b"}}}]}]}
],"spacing":0,"bounds":"flush","resolve":{"scale":{"color":"independent","strokeDash":"independent","shape":"independent"},"legend":{"color":"independent","strokeDash":"independent","shape":"independent"}}}
]
}
